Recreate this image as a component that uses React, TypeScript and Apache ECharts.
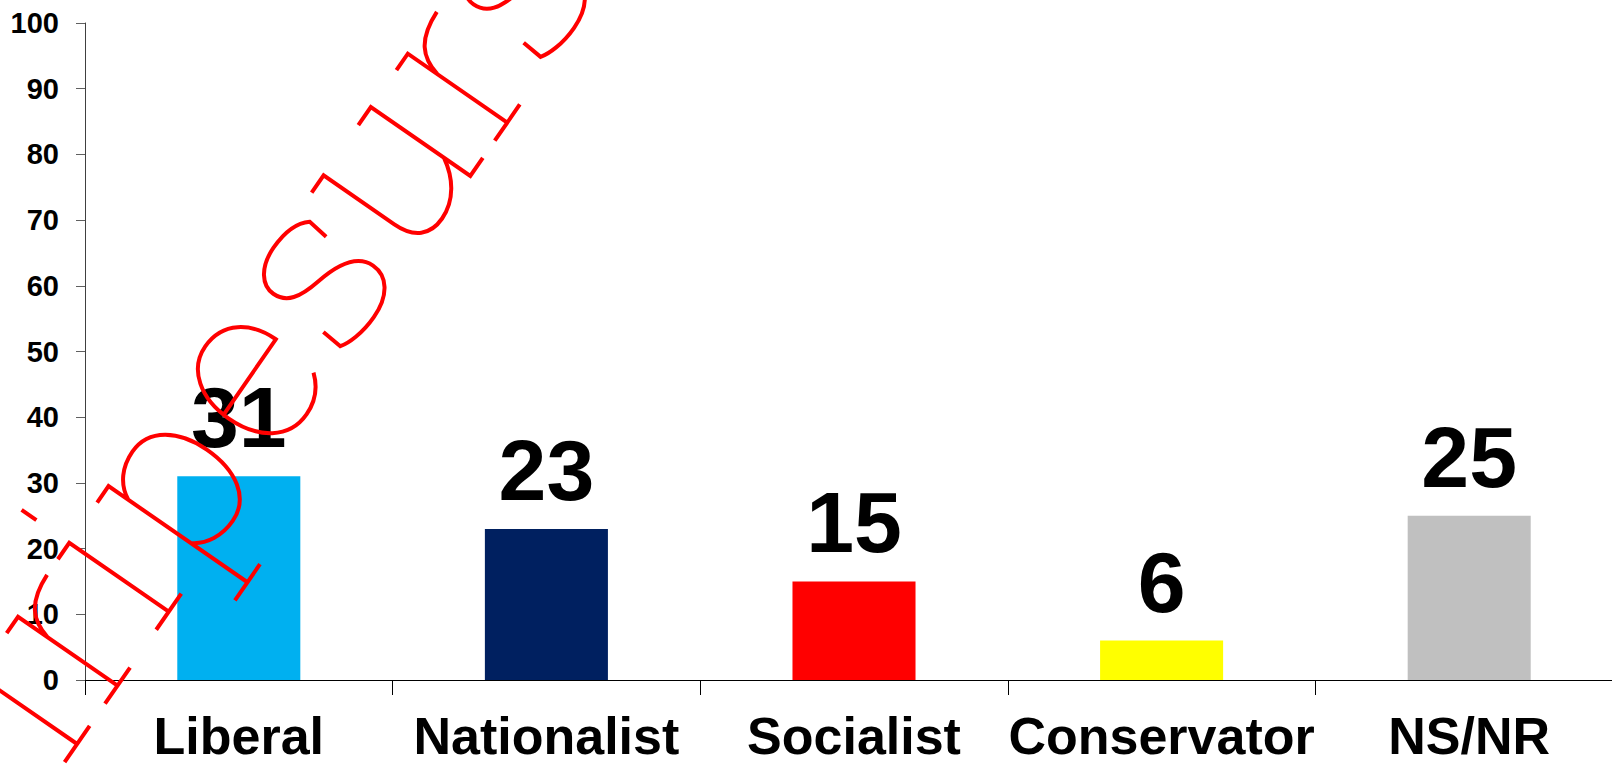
import React, { useEffect, useRef } from "react";
import * as echarts from "echarts";

// ---- data ----
const categories = ["Liberal", "Nationalist", "Socialist", "Conservator", "NS/NR"];
const values = [31, 23, 15, 6, 25];
const barColors = ["#00B0F0", "#002060", "#FF0000", "#FFFF00", "#C0C0C0"];
const yMin = 0;
const yMax = 100;
const yInterval = 10;

// ---- watermark (single-stroke serif lettering "stiripesurse", rotated) ----
const X = 366; // x-height line (local)
const B = 487; // baseline (local)
const stem = (s: number, bottom: number = B) =>
  `M${s - 20} ${X} L${s} ${X} L${s} ${bottom} M${s - 22} ${bottom} L${s + 22} ${bottom} `;
const dot = (s: number) => `M${s} 308 L${s} 326 `;
const rArm = (s: number) => `M${s} 402 C${s + 5} 380 ${s + 18} 367 ${s + 51} 366 `;
const pBowl = (s: number) =>
  `M${s} 390 C${s + 8} 374 ${s + 24} 366 ${s + 42} 366 C${s + 70} 366 ${s + 86} 392 ${s + 86} 426 C${s + 86} 462 ${s + 70} 488 ${s + 42} 488 C${s + 24} 488 ${s + 8} 480 ${s} 466 `;
const eG = (c: number) =>
  `M${c - 45} 420 L${c + 46} 420 C${c + 46} 390 ${c + 30} 366 ${c} 366 C${c - 28} 366 ${c - 46} 392 ${c - 46} 426 C${c - 46} 462 ${c - 28} 488 ${c + 2} 488 C${c + 18} 488 ${c + 31} 481 ${c + 40} 470 `;
const sG = (c: number) =>
  `M${c + 39} 403 L${c + 42} 381 C${c + 33} 370 ${c + 18} 366 ${c} 366 C${c - 24} 366 ${c - 38} 378 ${c - 38} 392 C${c - 38} 408 ${c - 26} 416 ${c - 2} 422 C${c + 26} 429 ${c + 42} 440 ${c + 42} 458 C${c + 42} 476 ${c + 26} 488 ${c} 488 C${c - 20} 488 ${c - 36} 482 ${c - 43} 477 L${c - 41} 455 `;
const uG = (l: number, r: number) =>
  `M${l - 21} ${X} L${l} ${X} L${l} 452 C${l} 476 ${l + 12} 488 ${l + 32} 488 C${l + 54} 488 ${l + 72} 474 ${r} 455 M${r - 22} ${X} L${r} ${X} L${r} ${B} L${r + 22} ${B} `;

const watermarkPath =
  stem(-568) + dot(-568) +
  stem(-497) + rArm(-497) +
  stem(-407) + dot(-407) +
  stem(-338, 535) + pBowl(-338) +
  eG(-168) +
  sG(-48) +
  uG(40, 123) +
  stem(188) + rArm(188) +
  sG(304) +
  eG(425);

echarts.graphic.registerShape("wmark", echarts.graphic.extendPath(watermarkPath, {}));

const FONT = "'Liberation Sans', Arial, Helvetica, sans-serif";

export default function App() {
  const ref = useRef<HTMLDivElement>(null);

  useEffect(() => {
    if (!ref.current) return;
    const chart = echarts.init(ref.current, undefined, { renderer: "svg" });
    chart.setOption({
      animation: false,
      backgroundColor: "#FFFFFF",
      grid: { left: 85, top: 23, right: 2, bottom: 85, containLabel: false },
      xAxis: {
        type: "category",
        data: categories,
        axisLine: { show: true, lineStyle: { color: "#000000", width: 1 } },
        axisTick: { show: true, length: 15, lineStyle: { color: "#000000" } },
        axisLabel: {
          margin: 36,
          fontSize: 52,
          lineHeight: 40,
          fontWeight: "bold",
          color: "#000000",
          fontFamily: FONT,
          interval: 0,
        },
        splitLine: { show: false },
      },
      yAxis: {
        type: "value",
        min: yMin,
        max: yMax,
        interval: yInterval,
        axisLine: { show: true, lineStyle: { color: "#404040", width: 1 } },
        axisTick: { show: true, length: 9, lineStyle: { color: "#606060" } },
        axisLabel: {
          margin: 26,
          fontSize: 29,
          fontWeight: "bold",
          color: "#000000",
          fontFamily: FONT,
        },
        splitLine: { show: false },
      },
      series: [
        {
          type: "bar",
          barWidth: "40%",
          data: values.map((v, i) => ({ value: v, itemStyle: { color: barColors[i] } })),
          label: {
            show: true,
            position: "top",
            distance: 16,
            fontSize: 86,
            fontWeight: "bold",
            color: "#000000",
            fontFamily: FONT,
          },
        },
      ],
      graphic: {
        elements: [
          {
            type: "wmark",
            x: 0,
            y: 0,
            rotation: (55.3 * Math.PI) / 180,
            silent: true,
            z: 100,
            style: { fill: "none", stroke: "#FF0000", lineWidth: 4 },
          },
        ],
      },
    });
    return () => chart.dispose();
  }, []);

  return (
    <div style={{ position: "fixed", left: 0, top: 0, width: 1612, height: 765, overflow: "hidden", background: "#fff" }}>
      <div ref={ref} style={{ width: 1625, height: 765 }} />
    </div>
  );
}
